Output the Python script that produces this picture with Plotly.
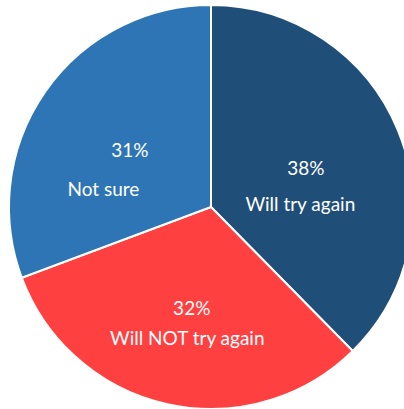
import plotly.graph_objects as go

# ---- data ----
labels = ["Will try again", "Will NOT try again", "Not sure"]
values = [38, 32, 31]
colors = ["#1F4E79", "#FF4040", "#2E75B6"]

# ---- label styling (sizes / paddings only, no data) ----
FS = 19                        # visible font size
line_gap = [36, 30, 39]        # px between percent line and name line, per slice
lead_size = [19, 6, 30]        # size of an invisible leading line (fine vertical offset)
pct_pad = [("", "."), ("..", ""), ("0..", "")]     # invisible (left, right) padding
name_pad = [("", "0."), ("", ""), ("", "000")]


def inv(s, size=FS):
    return f"<span style='color:rgba(0,0,0,0);font-size:{size}px'>{s}</span>" if s else ""


def vis(s):
    return f"<span style='font-size:{FS}px'>{s}</span>"


texts = []
for v, l, ls, (pl, pr), (nl, nr) in zip(values, labels, lead_size, pct_pad, name_pad):
    texts.append("<br>".join([
        inv(".", ls),
        inv(pl) + vis(f"{v}%") + inv(pr),
        inv(nl) + vis(l) + inv(nr),
    ]))

W, H = 422, 409
R = 202
cx, cy = 211, 207
domain = dict(x=[(cx - R) / W, (cx + R) / W], y=[(H - cy - R) / H, (H - cy + R) / H])

fig = go.Figure(go.Pie(
    labels=labels, values=values, sort=False, direction="clockwise", rotation=0,
    text=texts, textinfo="text", texttemplate="%{text}", textposition="inside",
    insidetextorientation="horizontal",
    textfont=dict(family="Lato", size=[g / 1.3 for g in line_gap], color="white"),
    marker=dict(colors=colors, line=dict(color="white", width=2)),
    hoverinfo="skip", showlegend=False, domain=domain,
))

fig.update_layout(
    width=W, height=H,
    margin=dict(l=0, r=0, t=0, b=0),
    paper_bgcolor="white",
    plot_bgcolor="white",
    showlegend=False,
)

fig.write_html(
    "out.html",
    config={"displayModeBar": False},
    post_script="document.body.style.margin='0';document.body.style.overflow='hidden';document.documentElement.style.overflow='hidden';",
)
